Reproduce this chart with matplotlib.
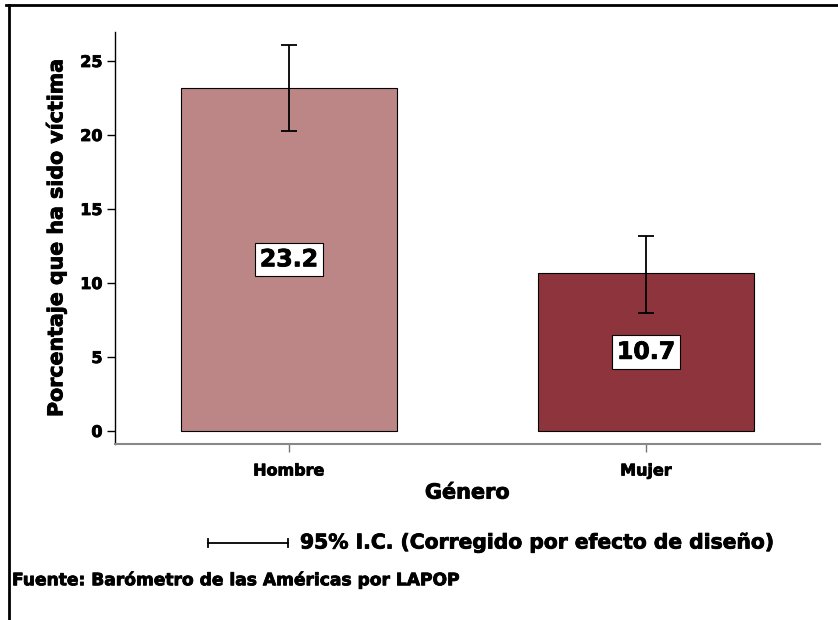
import numpy as np
import matplotlib.pyplot as plt
import matplotlib.patheffects as pe
from matplotlib.lines import Line2D

plt.rcParams['font.family'] = ['DejaVu Sans']
plt.rcParams['font.weight'] = 'bold'

categories = ['Hombre', 'Mujer']
values = [23.2, 10.7]
ci_low = [20.3, 8.0]
ci_high = [26.1, 13.2]
colors = ['#bc8687', '#8e343c']

heavy = [pe.withStroke(linewidth=0.6, foreground='black')]

W, H = 838, 620
fig = plt.figure(figsize=(W / 100, H / 100), dpi=100)
# axes box in pixels: x 115..820, y 32..444
ax = fig.add_axes([115 / W, 1 - 444 / H, (820 - 115) / W, (444 - 32) / H])

x = np.arange(len(categories))
vals = np.array(values)
err = [vals - np.array(ci_low), np.array(ci_high) - vals]
ax.bar(x, vals, width=0.605, color=colors, edgecolor='black', linewidth=0.8, zorder=2)
ax.errorbar(x, vals, yerr=err, fmt='none', ecolor='black', elinewidth=1.3,
            capsize=6, capthick=1.3, zorder=3)

for xi, v in zip(x, vals):
    ax.text(xi, v / 2, f'{v:.1f}', ha='center', va='center', fontsize=17,
            fontweight='bold', zorder=4, path_effects=heavy,
            bbox=dict(boxstyle='square,pad=0.2', facecolor='white', edgecolor='black', linewidth=0.8))

ax.set_xlim(-0.487, 1.487)
ax.set_ylim(-0.88, 26.96)
ax.set_yticks([0, 5, 10, 15, 20, 25])
ax.set_xticks(x)
ax.set_xticklabels(categories)
ax.tick_params(axis='y', length=6, width=1, labelsize=11.5, pad=3)
ax.tick_params(axis='x', length=6, width=1, color='#777777', labelsize=11.5, pad=8)
for lab in ax.get_xticklabels() + ax.get_yticklabels():
    lab.set_fontweight('bold')
    lab.set_path_effects(heavy)

ax.spines['top'].set_visible(False)
ax.spines['right'].set_visible(False)
ax.spines['bottom'].set_color('#888888')
ax.spines['bottom'].set_linewidth(1.5)
ax.spines['left'].set_linewidth(1)

ax.set_ylabel('Porcentaje que ha sido víctima', fontsize=14.8, fontweight='bold', labelpad=10,
              path_effects=heavy)
ax.set_xlabel('Género', fontsize=15, fontweight='bold', labelpad=3, path_effects=heavy)

# legend for the confidence interval
ly = 1 - 543 / H
fig.add_artist(Line2D([208 / W, 288 / W], [ly, ly], color='black', lw=1.3))
for px in (208, 288):
    fig.add_artist(Line2D([px / W, px / W], [ly - 4 / H, ly + 4 / H], color='black', lw=1.3))
fig.text(300 / W, ly, '95% I.C. (Corregido por efecto de diseño)', fontsize=14.6,
         fontweight='bold', va='center', ha='left', path_effects=heavy)
fig.text(12 / W, 1 - 580 / H, 'Fuente: Barómetro de las Américas por LAPOP', fontsize=12.3,
         fontweight='bold', va='center', ha='left', path_effects=heavy)

# frame lines
fig.add_artist(Line2D([6 / W, 1], [1 - 5 / H, 1 - 5 / H], color='black', lw=2))
fig.add_artist(Line2D([9 / W, 9 / W], [0, 1 - 5 / H], color='black', lw=2))

fig.savefig('out.png', dpi=100)
